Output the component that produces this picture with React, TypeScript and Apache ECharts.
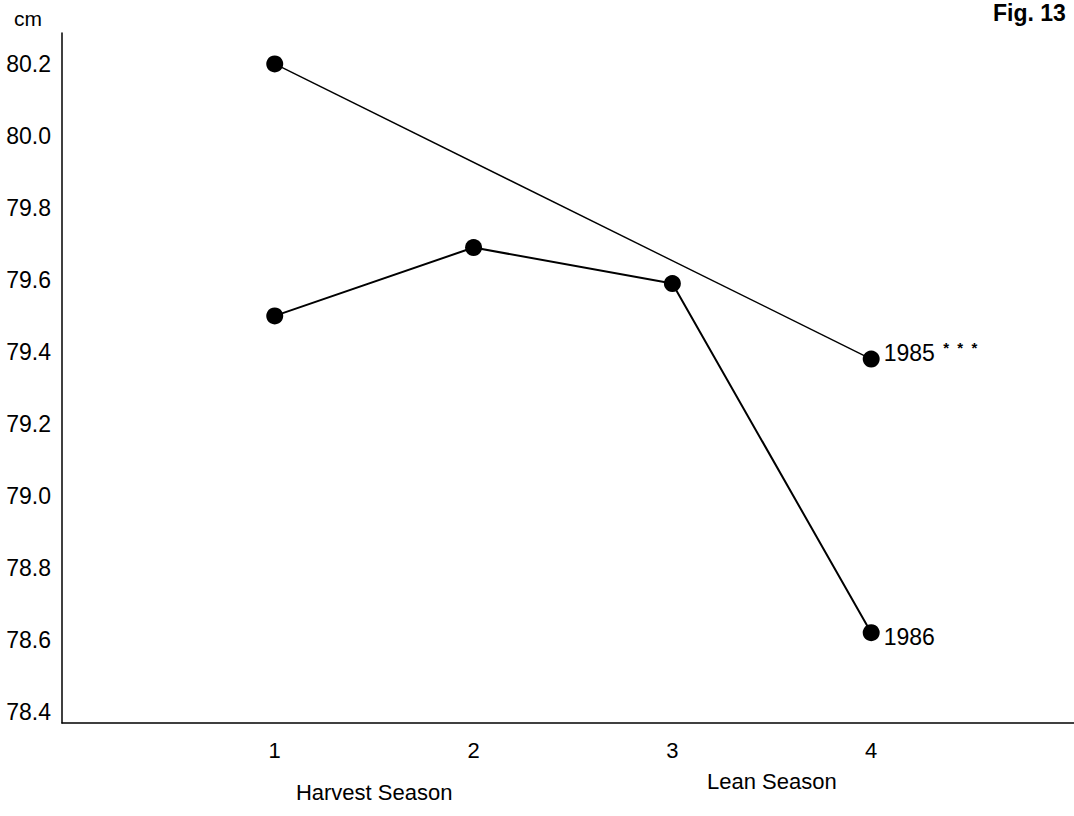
import React, { useEffect, useRef } from "react";
import * as echarts from "echarts";

const seasons = [1, 2, 3, 4];
const yTicks = [78.4, 78.6, 78.8, 79.0, 79.2, 79.4, 79.6, 79.8, 80.0, 80.2];
const series1985X = [1, 4];
const series1985Y = [80.2, 79.38];
const series1986Y = [79.5, 79.69, 79.59, 78.62];
const seasonNames = ["Harvest Season", "Lean Season"];
const seasonNameAt = [1.5, 3.5];

const FONT = "'Liberation Sans', Arial, Helvetica, sans-serif";

export default function App() {
  const ref = useRef<HTMLDivElement>(null);
  useEffect(() => {
    if (!ref.current) return;
    const chart = echarts.init(ref.current, null, { renderer: "svg" });
    const d1985 = series1985X.map((x, i) => {
      const item: any = { value: [x, series1985Y[i]] };
      if (i === series1985X.length - 1) {
        item.label = {
          show: true,
          position: "right",
          distance: 4,
          formatter: "{y|1985}{s|  *  *  *}",
          rich: {
            y: { fontSize: 23, fontFamily: FONT, color: "#000", padding: [0, 0, 12, 0] },
            s: { fontSize: 15, fontFamily: FONT, color: "#000", fontWeight: "bold", padding: [0, 0, 24, 0] },
          },
        };
      }
      return item;
    });
    const d1986 = seasons.map((x, i) => {
      const item: any = { value: [x, series1986Y[i]] };
      if (i === seasons.length - 1) {
        item.label = {
          show: true,
          position: "right",
          distance: 4,
          formatter: "{y|1986}",
          rich: {
            y: { fontSize: 23, fontFamily: FONT, color: "#000", padding: [8, 0, 0, 0] },
          },
        };
      }
      return item;
    });
    const option: any = {
      animation: false,
      backgroundColor: "#fff",
      grid: { left: 62, right: 0, top: 33, bottom: 93, containLabel: false, outerBoundsMode: "none" },
      xAxis: {
        type: "value",
        min: -0.07,
        max: 5.02,
        axisLine: { show: true, onZero: false, lineStyle: { color: "#000", width: 1.5 } },
        axisTick: { show: false },
        splitLine: { show: false },
        axisLabel: {
          customValues: seasons,
          fontSize: 22,
          fontFamily: FONT,
          color: "#000",
          margin: 16,
        },
      },
      yAxis: {
        type: "value",
        min: 78.369,
        max: 80.286,
        axisLine: { show: true, onZero: false, lineStyle: { color: "#000", width: 1.5 } },
        axisTick: { show: false },
        splitLine: { show: false },
        axisLabel: {
          customValues: yTicks,
          formatter: (v: number) => v.toFixed(1),
          fontSize: 23,
          fontFamily: FONT,
          color: "#000",
          margin: 11,
        },
      },
      series: [
        {
          name: "1985",
          type: "line",
          data: d1985,
          symbol: "circle",
          symbolSize: 17,
          lineStyle: { color: "#000", width: 1.4 },
          itemStyle: { color: "#000" },
        },
        {
          name: "1986",
          type: "line",
          data: d1986,
          symbol: "circle",
          symbolSize: 17,
          lineStyle: { color: "#000", width: 2 },
          itemStyle: { color: "#000" },
        },
      ],
    };
    chart.setOption(option);
    const graphics: any[] = [
      {
        type: "text",
        x: 28,
        y: 18,
        style: { text: "cm", fontSize: 21, fontFamily: FONT, fill: "#000", align: "center", verticalAlign: "middle" },
      },
      {
        type: "text",
        x: 993,
        y: 13,
        style: { text: "Fig. 13", fontSize: 23, fontWeight: "bold", fontFamily: FONT, fill: "#000", verticalAlign: "middle" },
      },
    ];
    seasonNames.forEach((name, i) => {
      const px = chart.convertToPixel({ gridIndex: 0 }, [seasonNameAt[i], 79]) as number[];
      graphics.push({
        type: "text",
        x: px[0],
        y: i === 0 ? 792 : 781,
        style: {
          text: name,
          fontSize: 22,
          fontFamily: FONT,
          fill: "#000",
          align: "center",
          verticalAlign: "middle",
        },
      });
    });
    chart.setOption({ graphic: graphics });
    return () => chart.dispose();
  }, []);
  return (
    <div
      ref={ref}
      style={{ position: "fixed", left: 0, top: 0, width: 1074, height: 816 }}
    />
  );
}
